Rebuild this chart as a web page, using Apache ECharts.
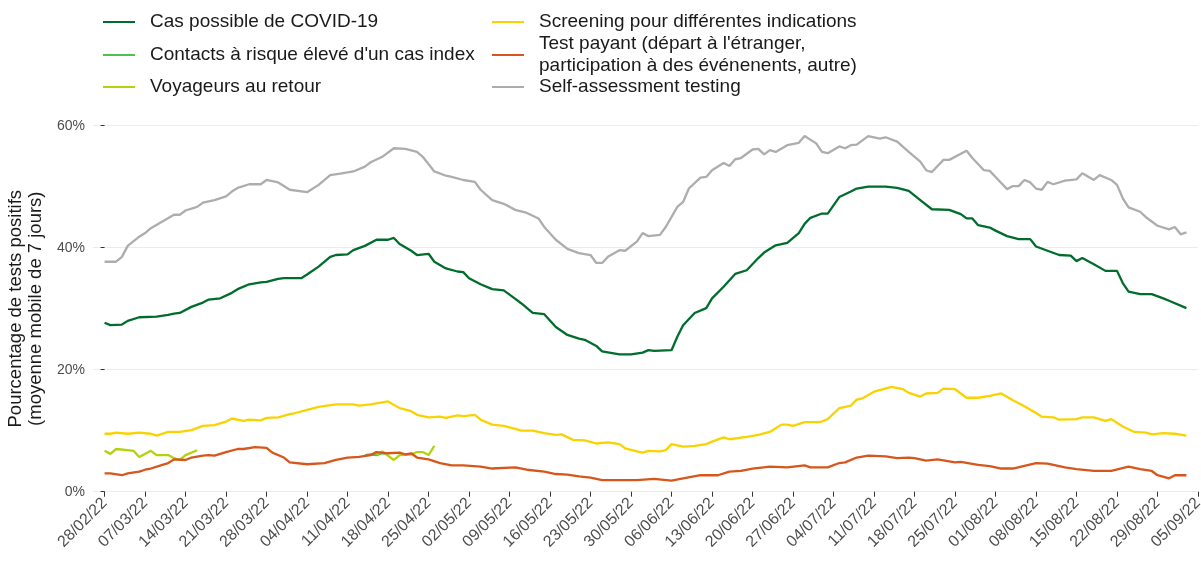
<!DOCTYPE html>
<html>
<head>
<meta charset="utf-8">
<script src="https://cdn.jsdelivr.net/npm/echarts@6/dist/echarts.min.js"></script>
<style>
  html, body { margin: 0; padding: 0; background: #fff; }
  #chart { width: 1201px; height: 573px; }
</style>
</head>
<body>
<div id="chart"></div>
<script>
'use strict';

// jours depuis le 28/02/22, valeur en %
const casPossible = [[0,27.7],[1,27.3],[3,27.4],[4,28.0],[6,28.6],[9,28.7],[11,29.0],[12,29.2],[13,29.3],[15,30.3],[17,31.0],[18,31.5],[20,31.7],[22,32.6],[23,33.2],[25,34.0],[27,34.3],[28,34.4],[30,34.9],[31,35.0],[34,35.0],[35,35.6],[37,36.9],[39,38.5],[40,38.8],[42,38.9],[43,39.6],[45,40.3],[47,41.3],[49,41.3],[50,41.6],[51,40.6],[53,39.5],[54,38.8],[56,39.0],[57,37.7],[59,36.6],[61,36.1],[62,36.0],[63,35.0],[65,34.0],[67,33.2],[69,33.0],[71,31.6],[72,30.9],[74,29.3],[76,29.1],[78,27.0],[80,25.7],[82,25.1],[83,24.9],[85,23.9],[86,23.0],[89,22.5],[91,22.5],[93,22.8],[94,23.2],[95,23.1],[98,23.2],[99,25.4],[100,27.3],[102,29.3],[104,30.1],[105,31.7],[107,33.6],[109,35.7],[111,36.3],[113,38.3],[114,39.2],[116,40.4],[118,40.8],[120,42.4],[121,43.9],[122,44.9],[124,45.6],[125,45.6],[127,48.3],[129,49.2],[130,49.7],[132,50.0],[135,50.0],[137,49.8],[139,49.3],[141,47.8],[143,46.3],[146,46.2],[148,45.5],[149,44.8],[150,44.8],[151,43.7],[153,43.3],[154,42.8],[156,41.9],[158,41.4],[160,41.4],[161,40.2],[163,39.5],[165,38.8],[167,38.7],[168,37.8],[169,38.3],[171,37.3],[173,36.2],[175,36.2],[176,34.2],[177,32.8],[179,32.4],[181,32.4],[183,31.7],[184,31.3],[187,30.1]];

const contacts = [[45,6.0],[46,6.1],[47,6.0],[48,6.3],[49,6.2]];

const voyageurs = [[0,6.7],[1,6.2],[2,7.0],[4,6.8],[5,6.7],[6,5.7],[8,6.7],[9,6.0],[11,6.0],[12,5.5],[13,5.2],[14,6.0],[16,6.8],[30,null],[47,6.1],[48,6.6],[50,5.2],[51,6.0],[53,6.1],[54,6.5],[55,6.5],[56,6.0],[57,7.5]];

const screening = [[0,9.5],[1,9.5],[2,9.7],[4,9.5],[6,9.7],[8,9.5],[9,9.2],[11,9.8],[13,9.8],[15,10.1],[17,10.8],[19,10.9],[21,11.5],[22,12.0],[24,11.6],[25,11.8],[27,11.7],[28,12.1],[30,12.2],[32,12.7],[33,12.9],[35,13.4],[37,13.9],[40,14.3],[43,14.3],[44,14.1],[46,14.3],[49,14.8],[51,13.7],[53,13.2],[54,12.6],[56,12.2],[58,12.3],[59,12.1],[61,12.5],[62,12.4],[64,12.6],[65,11.8],[67,11.0],[69,10.8],[71,10.3],[72,10.0],[74,10.0],[76,9.6],[78,9.3],[79,9.4],[81,8.5],[83,8.4],[85,7.9],[87,8.1],[89,7.8],[90,7.1],[92,6.6],[93,6.4],[94,6.7],[96,6.6],[97,6.8],[98,7.8],[100,7.4],[102,7.5],[104,7.8],[105,8.2],[107,8.9],[108,8.6],[111,9.0],[113,9.3],[115,9.8],[117,11.0],[118,11.0],[119,10.8],[121,11.4],[123,11.4],[124,11.5],[125,11.9],[127,13.7],[129,14.1],[130,15.1],[131,15.3],[133,16.4],[136,17.2],[138,16.8],[139,16.2],[141,15.6],[142,16.1],[144,16.2],[145,16.9],[147,16.8],[149,15.4],[151,15.4],[153,15.7],[155,16.1],[157,15.0],[159,14.0],[161,12.9],[162,12.3],[164,12.2],[165,11.8],[168,11.9],[169,12.2],[171,12.2],[173,11.6],[174,11.9],[176,10.7],[178,9.8],[180,9.7],[181,9.4],[183,9.6],[185,9.5],[187,9.2]];

const testPayant = [[0,3.0],[1,3.0],[3,2.7],[4,3.0],[6,3.3],[7,3.6],[8,3.8],[10,4.4],[11,4.7],[12,5.3],[14,5.2],[15,5.6],[17,5.9],[18,6.0],[19,5.9],[21,6.5],[23,7.0],[24,7.0],[26,7.3],[28,7.2],[29,6.4],[31,5.6],[32,4.8],[35,4.5],[38,4.7],[40,5.2],[42,5.6],[44,5.7],[46,6.0],[47,6.5],[49,6.3],[51,6.4],[52,6.1],[53,6.3],[54,5.6],[56,5.3],[58,4.7],[60,4.3],[62,4.3],[65,4.1],[67,3.8],[71,4.0],[73,3.6],[76,3.3],[78,2.9],[80,2.8],[82,2.5],[84,2.3],[86,1.9],[89,1.9],[92,1.9],[95,2.1],[98,1.8],[100,2.2],[103,2.7],[106,2.7],[108,3.3],[110,3.4],[112,3.8],[115,4.1],[118,4.0],[121,4.3],[122,4.0],[125,4.0],[127,4.7],[128,4.8],[130,5.6],[132,5.9],[135,5.8],[137,5.5],[139,5.6],[140,5.5],[142,5.1],[144,5.3],[147,4.8],[148,4.9],[151,4.4],[153,4.2],[155,3.8],[157,3.8],[161,4.7],[163,4.6],[166,4.0],[168,3.7],[171,3.4],[174,3.4],[177,4.1],[179,3.7],[181,3.4],[182,2.7],[184,2.2],[185,2.7],[187,2.7]];

const selfAssessment = [[0,37.7],[2,37.7],[3,38.5],[4,40.3],[6,41.8],[7,42.4],[8,43.2],[10,44.3],[12,45.4],[13,45.4],[14,46.1],[16,46.7],[17,47.4],[19,47.8],[21,48.4],[22,49.2],[23,49.8],[25,50.4],[27,50.4],[28,51.1],[30,50.7],[31,50.1],[32,49.5],[35,49.1],[37,50.3],[39,51.9],[41,52.2],[43,52.5],[45,53.3],[46,54.0],[48,54.9],[50,56.3],[52,56.2],[54,55.7],[55,54.9],[57,52.5],[59,51.8],[60,51.6],[62,51.1],[64,50.8],[65,49.5],[67,47.8],[69,47.2],[71,46.2],[73,45.7],[75,44.8],[76,43.4],[78,41.3],[80,39.8],[82,39.1],[84,38.8],[85,37.5],[86,37.5],[87,38.5],[89,39.6],[90,39.5],[92,41.0],[93,42.4],[94,41.9],[96,42.1],[97,43.4],[99,46.7],[100,47.5],[101,49.7],[103,51.5],[104,51.6],[105,52.7],[107,53.9],[108,53.4],[109,54.5],[110,54.7],[112,56.1],[113,56.2],[114,55.3],[115,56.0],[116,55.7],[118,56.8],[120,57.2],[121,58.3],[123,57.1],[124,55.7],[125,55.5],[127,56.6],[128,56.3],[129,56.8],[130,56.9],[132,58.3],[134,57.9],[135,58.1],[137,57.4],[139,55.7],[141,54.1],[142,52.7],[143,52.4],[145,54.4],[146,54.4],[149,55.9],[150,54.7],[152,52.7],[153,52.6],[154,51.6],[156,49.6],[157,50.1],[158,50.1],[159,51.1],[160,50.7],[161,49.7],[162,49.5],[163,50.8],[164,50.4],[166,51.0],[168,51.2],[169,52.2],[171,51.1],[172,51.9],[174,51.1],[175,50.3],[176,48.1],[177,46.6],[179,45.9],[180,45.0],[182,43.6],[184,43.0],[185,43.4],[186,42.2],[187,42.5]];

const tickDates = ['2022-02-28','2022-03-07','2022-03-14','2022-03-21','2022-03-28','2022-04-04','2022-04-11','2022-04-18','2022-04-25','2022-05-02','2022-05-09','2022-05-16','2022-05-23','2022-05-30','2022-06-06','2022-06-13','2022-06-20','2022-06-27','2022-07-04','2022-07-11','2022-07-18','2022-07-25','2022-08-01','2022-08-08','2022-08-15','2022-08-22','2022-08-29','2022-09-05'];

const seriesNames = ['Cas possible de COVID-19', "Contacts à risque élevé d'un cas index", 'Voyageurs au retour',
    'Screening pour différentes indications', "Test payant (départ à l'étranger,\nparticipation à des événenents, autre)", 'Self-assessment testing'];
const seriesColors = ['#006d2c', '#52bf52', '#b4d20c', '#f8d300', '#d7561b', '#adadad'];

const DAY = 86400000;
const startTime = Date.UTC(2022, 1, 28);

function dateToDay(s) {
    let p = s.split('-').map(Number);
    return Math.round((Date.UTC(p[0], p[1] - 1, p[2]) - startTime) / DAY);
}
function pad(n) {
    return (n < 10 ? '0' : '') + n;
}
function dayLabel(day) {
    let d = new Date(startTime + Math.round(day) * DAY);
    return pad(d.getUTCDate()) + '/' + pad(d.getUTCMonth() + 1) + '/' + String(d.getUTCFullYear()).slice(2);
}

let tickDays = tickDates.map(dateToDay);
let allData = [casPossible, contacts, voyageurs, screening, testPayant, selfAssessment];

let series = allData.map(function (arr, i) {
    return {
        name: seriesNames[i],
        type: 'line',
        showSymbol: false,
        symbol: 'none',
        connectNulls: false,
        lineStyle: {width: 2.3, color: seriesColors[i]},
        itemStyle: {color: seriesColors[i]},
        data: arr,
        z: 2
    };
});

// légende en deux colonnes
let legendPos = [
    {left: 103, top: 11}, {left: 103, top: 44}, {left: 103, top: 76},
    {left: 492, top: 11}, {left: 492, top: 33}, {left: 492, top: 76}
];
let legends = seriesNames.map(function (name, i) {
    return {
        left: legendPos[i].left,
        top: legendPos[i].top,
        padding: 0,
        data: [{name: name, icon: 'rect'}],
        itemWidth: 32,
        itemHeight: 2,
        selectedMode: false,
        textStyle: {
            fontFamily: 'Liberation Sans',
            fontSize: 19,
            lineHeight: 22,
            color: '#1a1a1a',
            padding: [0, 0, 0, 10]
        }
    };
});

let myChart = echarts.init(document.getElementById('chart'), null, {renderer: 'canvas'});
myChart.setOption({
    animation: false,
    backgroundColor: '#fff',
    textStyle: {fontFamily: 'Liberation Sans'},
    legend: legends,
    grid: {
        left: 93,
        right: 3,
        top: 125.7,
        bottom: 81.3,
        containLabel: false,
        outerBoundsMode: 'none'
    },
    xAxis: {
        type: 'value',
        min: -2,
        max: tickDays[tickDays.length - 1],
        offset: 3,
        axisLine: {show: false},
        axisTick: {
            show: true,
            length: 5,
            lineStyle: {color: '#333', width: 1},
            customValues: tickDays
        },
        splitLine: {show: false},
        axisLabel: {
            rotate: 45,
            margin: 6,
            fontSize: 16,
            color: '#4d4d4d',
            fontFamily: 'Liberation Sans',
            customValues: tickDays,
            hideOverlap: false,
            formatter: dayLabel
        }
    },
    yAxis: {
        type: 'value',
        min: 0,
        max: 60,
        interval: 20,
        name: 'Pourcentage de tests positifs\n(moyenne mobile de 7 jours)',
        nameLocation: 'middle',
        nameRotate: 90,
        nameGap: 42.5,
        nameTextStyle: {
            fontFamily: 'Liberation Sans',
            fontSize: 18.5,
            lineHeight: 20,
            color: '#1a1a1a'
        },
        axisLine: {show: false},
        axisTick: {show: true, length: 4, lineStyle: {color: '#333'}},
        axisLabel: {
            margin: 8,
            fontSize: 14,
            color: '#4d4d4d',
            fontFamily: 'Liberation Sans',
            formatter: '{value}%'
        },
        splitLine: {lineStyle: {color: '#ebebeb', width: 1}}
    },
    series: series
});
</script>
</body>
</html>
